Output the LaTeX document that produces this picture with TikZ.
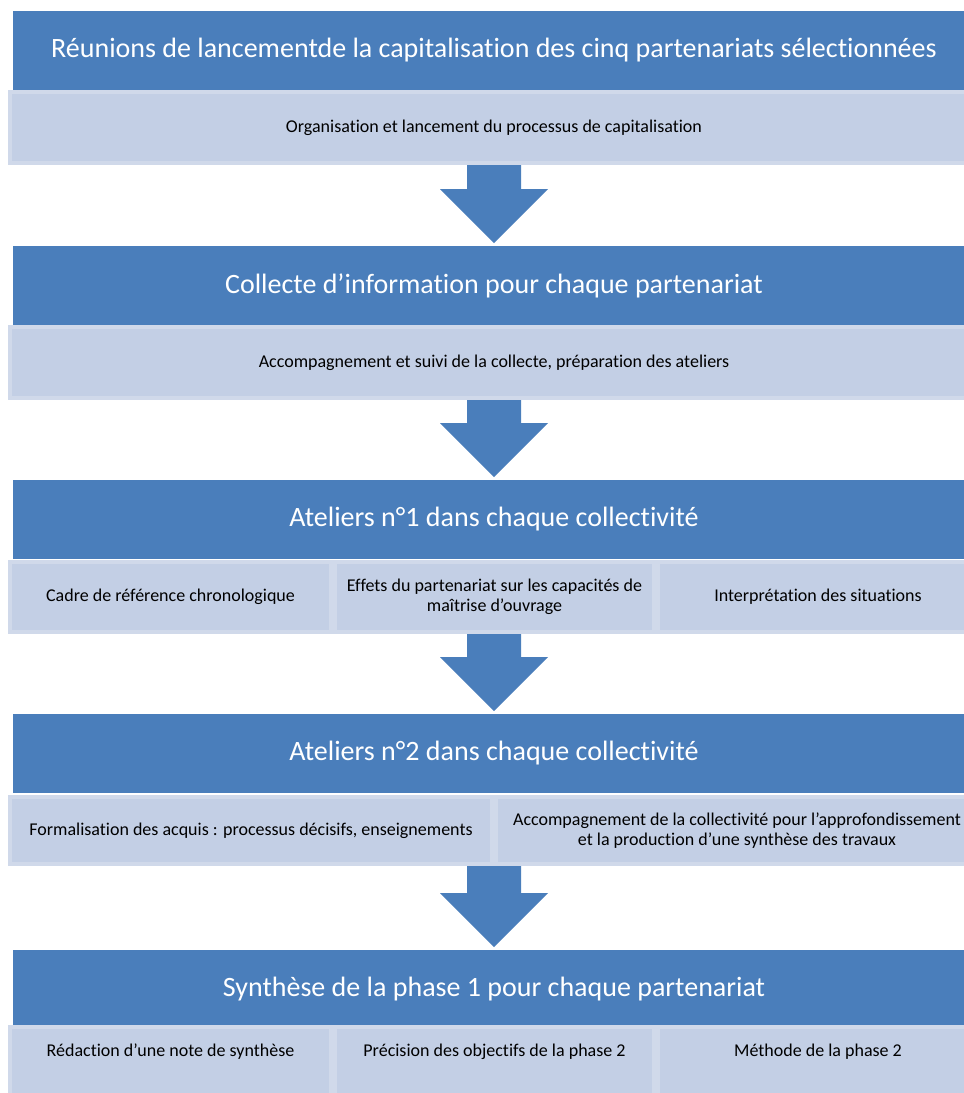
\documentclass[tikz,border=0pt]{standalone}
\usepackage{fontspec}
\setmainfont{Carlito}[Ligatures={NoCommon}]
\usetikzlibrary{calc}
\definecolor{headblue}{RGB}{74,126,187}
\definecolor{cellfill}{RGB}{195,207,229}
\definecolor{cellline}{RGB}{208,217,234}
\tikzset{
  head/.style={fill=headblue, anchor=north west, inner sep=0pt, outer sep=0pt,
    minimum width=962pt, minimum height=79pt, text=white,
    font=\fontsize{28}{32}\selectfont},
  cell/.style={fill=cellfill, draw=cellline, line width=4pt, outer sep=2pt,
    anchor=north west, inner sep=0pt, align=center, text=black,
    font=\fontsize{18}{20}\selectfont},
  flow/.style={fill=headblue, draw=none}
}
% block arrow from the bottom of one stage down to the next stage header
\newcommand\flowarrow[2]{%
  \path[flow] let \p1=(#1.south), \p2=(#2.north) in
    (\x2-27pt,\y1) -- (\x2+27pt,\y1) -- (\x2+27pt,\y2+57pt)
    -- (\x2+54pt,\y2+57pt) -- (\x2,\y2+3pt) -- (\x2-54pt,\y2+57pt)
    -- (\x2-27pt,\y2+57pt) -- cycle;}
\begin{document}
\begin{tikzpicture}[x=1pt,y=-1pt]
\useasboundingbox (0,0) rectangle (964,1093);
\begin{scope}
\clip (0,0) rectangle (964,1093);
% stage 1
\node[head] (h1) at (13,11) {Réunions de lancementde la capitalisation des cinq partenariats sélectionnées};
\node[cell, minimum width=968pt, minimum height=71pt] (c1) at (8,90)
  {Organisation et lancement du processus de capitalisation};
% stage 2
\node[head] (h2) at (13,246) {Collecte d’information pour chaque partenariat};
\node[cell, minimum width=968pt, minimum height=71pt] (c2) at (8,325)
  {Accompagnement et suivi de la collecte, préparation des ateliers};
% stage 3
\node[head] (h3) at (13,480) {Ateliers n°1 dans chaque collectivité};
\node[cell, minimum width=321pt, minimum height=70pt] (c3a) at (8,560)
  {Cadre de référence chronologique};
\node[cell, minimum width=319pt, minimum height=70pt] (c3b) at (333,560)
  {Effets du partenariat sur les capacités de\\ maîtrise d’ouvrage};
\node[cell, minimum width=320pt, minimum height=70pt] (c3c) at (656,560)
  {Interprétation des situations};
% stage 4
\node[head] (h4) at (13,714) {Ateliers n°2 dans chaque collectivité};
\node[cell, minimum width=482pt, minimum height=67pt] (c4a) at (8,795)
  {Formalisation des acquis : processus décisifs, enseignements};
\node[cell, minimum width=482pt, minimum height=67pt] (c4b) at (494,795)
  {Accompagnement de la collectivité pour l’approfondissement\\ et la production d’une synthèse des travaux};
% stage 5
\node[head] (h5) at (13,950) {Synthèse de la phase 1 pour chaque partenariat};
\node[cell, minimum width=321pt, text height=29pt, text depth=44pt] (c5a) at (8,1025)
  {Rédaction d’une note de synthèse};
\node[cell, minimum width=319pt, text height=29pt, text depth=44pt] (c5b) at (333,1025)
  {Précision des objectifs de la phase 2};
\node[cell, minimum width=320pt, text height=29pt, text depth=44pt] (c5c) at (656,1025)
  {Méthode de la phase 2};
% arrows between stages
\flowarrow{c1}{h2}
\flowarrow{c2}{h3}
\flowarrow{c3b}{h4}
\flowarrow{c4a}{h5}
\end{scope}
\end{tikzpicture}
\end{document}
